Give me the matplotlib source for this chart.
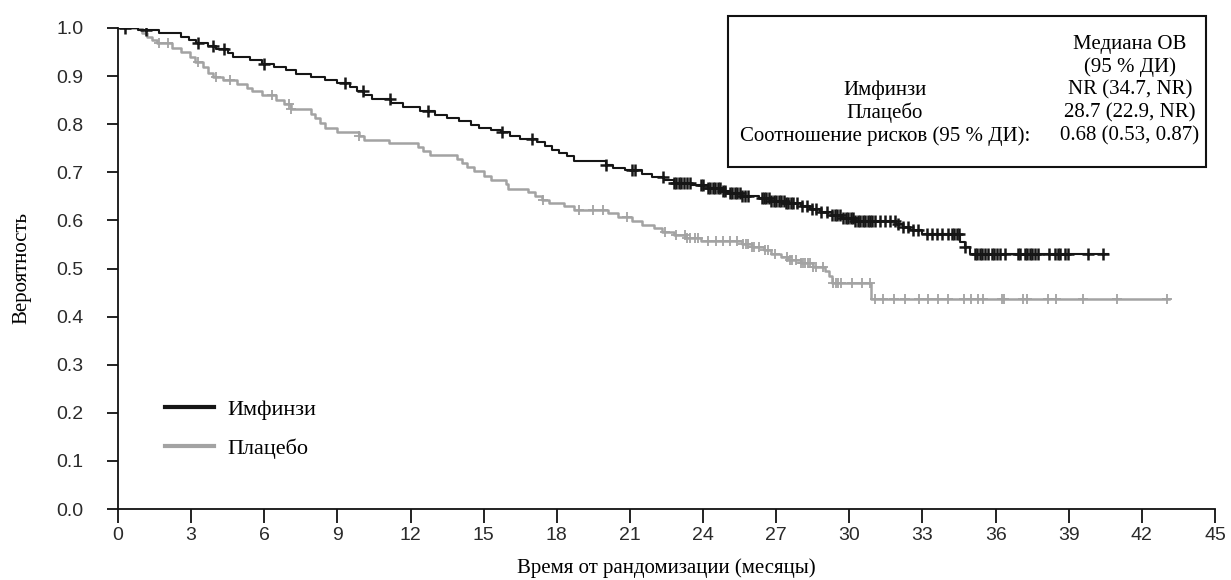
import matplotlib
matplotlib.use("Agg")
import matplotlib.pyplot as plt
import numpy as np
from matplotlib.lines import Line2D
from matplotlib.patches import Rectangle

# Imfinzi KM curve: drop times and survival after each drop
imf_t = [0, 0.8, 1.7, 2.6, 2.9, 3.2, 3.7, 4.0, 4.5, 4.7, 5.4, 5.9, 6.4, 6.9, 7.3, 7.9,
         8.5, 9.0, 9.5, 9.8, 10.1, 10.4, 11.2, 11.7, 12.4, 13.0, 13.5, 14.0, 14.5, 14.8,
         15.3, 15.7, 16.1, 16.5, 17.2, 17.5, 17.8, 18.1, 18.4, 18.7, 20.0, 20.3, 20.8,
         21.5, 21.9, 22.4, 22.8, 23.5, 24.2, 24.8, 25.1, 25.6, 26.3, 26.8, 27.4, 28.0,
         28.4, 28.8, 29.3, 29.7, 30.2, 31.9, 32.2, 32.5, 33.0, 34.55, 34.75, 34.95]
imf_s = [1.0, 0.996, 0.989, 0.982, 0.975, 0.969, 0.962, 0.956, 0.948, 0.94, 0.933, 0.925,
         0.919, 0.912, 0.905, 0.898, 0.892, 0.886, 0.877, 0.868, 0.861, 0.852, 0.845,
         0.836, 0.828, 0.82, 0.813, 0.806, 0.799, 0.792, 0.788, 0.784, 0.776, 0.769,
         0.762, 0.755, 0.747, 0.74, 0.733, 0.723, 0.715, 0.709, 0.704, 0.697, 0.69,
         0.684, 0.678, 0.674, 0.667, 0.661, 0.656, 0.65, 0.646, 0.641, 0.637, 0.63,
         0.623, 0.617, 0.611, 0.604, 0.599, 0.592, 0.586, 0.58, 0.572, 0.556, 0.545, 0.53]
imf_end = 40.6
imf_cens = [0.3, 1.15, 3.3, 3.9, 4.35, 6.0, 9.3, 10.05, 11.15, 12.7, 15.75, 17.0, 20.0,
            21.1, 21.2, 22.35, 22.8, 22.9, 23.0, 23.1, 23.2, 23.35, 23.45, 23.9, 24.0,
            24.2, 24.3, 24.4, 24.5, 24.6, 24.7, 24.8, 24.9, 25.1, 25.2, 25.3, 25.4, 25.5,
            25.6, 25.7, 25.85, 26.4, 26.5, 26.6, 26.7, 26.8, 26.9, 27.0, 27.1, 27.2, 27.3,
            27.4, 27.5, 27.6, 27.7, 27.85, 28.05, 28.25, 28.45, 28.65, 28.85, 29.1, 29.3,
            29.4, 29.5, 29.6, 29.75, 29.85, 29.95, 30.05, 30.15, 30.25, 30.35, 30.45, 30.55,
            30.65, 30.75, 30.85, 30.95, 31.05, 31.25, 31.45, 31.67, 31.87, 32.0, 32.2, 32.4,
            32.6, 32.8, 33.2, 33.4, 33.6, 33.8, 34.05, 34.2, 34.3, 34.4, 34.5, 34.75,
            35.15, 35.25, 35.35, 35.45, 35.55, 35.7, 35.85, 35.95, 36.05, 36.2, 36.4, 36.9,
            37.0, 37.2, 37.3, 37.4, 37.5, 37.6, 37.75, 38.2, 38.45, 38.55, 38.65, 38.85,
            38.97, 39.8, 40.4]

# Placebo KM curve
pla_t = [0, 1.0, 1.2, 1.4, 1.6, 2.2, 2.6, 2.95, 3.15, 3.5, 3.7, 3.9, 4.3, 4.9, 5.3, 5.5,
         5.9, 6.5, 6.8, 7.1, 7.9, 8.1, 8.3, 8.5, 9.0, 9.9, 10.1, 11.1, 12.3, 12.5, 12.8,
         13.9, 14.1, 14.3, 14.6, 15.0, 15.3, 15.9, 16.0, 16.8, 17.1, 17.4, 17.7, 18.3,
         18.7, 20.1, 20.5, 21.1, 21.5, 22.0, 22.3, 22.8, 23.3, 23.9, 25.6, 26.0, 26.5,
         26.8, 27.2, 27.5, 28.0, 28.5, 29.0, 29.15, 29.3, 30.9]
pla_s = [1.0, 0.99, 0.982, 0.975, 0.968, 0.958, 0.95, 0.94, 0.93, 0.918, 0.906, 0.898,
         0.892, 0.884, 0.876, 0.868, 0.86, 0.85, 0.842, 0.832, 0.822, 0.812, 0.802, 0.792,
         0.784, 0.775, 0.767, 0.76, 0.752, 0.744, 0.736, 0.727, 0.72, 0.711, 0.702, 0.693,
         0.685, 0.675, 0.666, 0.659, 0.651, 0.643, 0.636, 0.629, 0.622, 0.615, 0.608,
         0.598, 0.59, 0.584, 0.576, 0.569, 0.563, 0.558, 0.551, 0.545, 0.538, 0.53, 0.524,
         0.518, 0.512, 0.504, 0.494, 0.484, 0.469, 0.437]
pla_end = 43.1
pla_cens = [1.7, 2.05, 3.3, 4.0, 4.6, 6.3, 7.0, 7.1, 9.9, 17.45, 18.9, 19.5, 19.9, 20.9,
            22.45, 22.9, 23.25, 23.35, 23.45, 23.65, 23.8, 24.2, 24.55, 24.8, 25.1, 25.4,
            25.65, 25.75, 25.85, 26.0, 26.1, 26.3, 26.55, 26.65, 26.95, 27.45, 27.55,
            27.65, 27.8, 28.0, 28.1, 28.2, 28.3, 28.4, 28.5, 28.65, 28.9, 29.35, 29.45,
            29.55, 29.65, 30.1, 30.5, 30.85, 31.05, 31.39, 31.84, 32.28, 32.85, 33.23,
            33.65, 34.05, 34.71, 34.99, 35.26, 35.49, 36.25, 36.33, 37.11, 37.27, 38.13,
            38.47, 39.59, 41.0, 43.05]

x_ticks = list(range(0, 46, 3))
y_ticks = [0.0, 0.1, 0.2, 0.3, 0.4, 0.5, 0.6, 0.7, 0.8, 0.9, 1.0]

col_imf = "#161616"
col_pla = "#a3a3a3"
serif = "Liberation Serif"
sans = "Liberation Sans"


def at(times, surv, c):
    idx = np.searchsorted(times, c, side="right") - 1
    return np.asarray(surv)[idx]


fig = plt.figure(figsize=(12.31, 5.80), dpi=100)
ax = fig.add_axes([118 / 1231, 1 - 509 / 580, 1097 / 1231, 481 / 580])

# placebo under, imfinzi on top
ax.step(np.append(pla_t, pla_end), np.append(pla_s, pla_s[-1]), where="post",
        color=col_pla, lw=1.8, zorder=2)
ax.plot(pla_cens, at(pla_t, pla_s, pla_cens), ls="none", marker="+", ms=7, mew=1.3,
        color=col_pla, zorder=2)
ax.step(np.append(imf_t, imf_end), np.append(imf_s, imf_s[-1]), where="post",
        color=col_imf, lw=1.5, zorder=3)
ax.plot(imf_cens, at(imf_t, imf_s, imf_cens), ls="none", marker="+", ms=8, mew=1.8,
        color=col_imf, zorder=4)

ax.set_xlim(0, 45)
ax.set_ylim(0, 1.0)
ax.set_xticks(x_ticks)
ax.set_yticks(y_ticks)
ax.set_yticklabels([f"{v:.1f}" for v in y_ticks])
ax.spines["top"].set_visible(False)
ax.spines["right"].set_visible(False)
for sp in ["left", "bottom"]:
    ax.spines[sp].set_linewidth(1.3)
    ax.spines[sp].set_color("#111111")
ax.tick_params(axis="x", length=10, width=1.3, direction="out", pad=3, color="#111111")
ax.tick_params(axis="y", length=8, width=1.3, direction="out", pad=17, color="#111111")
for lab in ax.get_xticklabels() + ax.get_yticklabels():
    lab.set_fontfamily(sans)
    lab.set_fontsize(14)
    lab.set_color("#2a2a2a")

ax.set_xlabel("Время от рандомизации (месяцы)", fontfamily=serif, fontsize=15, labelpad=10)
ax.set_ylabel("Вероятность", fontfamily=serif, fontsize=15, labelpad=18)

handles = [Line2D([], [], color=col_imf, lw=3), Line2D([], [], color=col_pla, lw=3)]
ax.legend(handles, ["Имфинзи", "Плацебо"], loc="lower left",
          bbox_to_anchor=(0.043, 0.104), frameon=False, borderpad=0, borderaxespad=0,
          prop={"family": serif, "size": 16}, handlelength=2.2, handletextpad=0.6,
          labelspacing=0.85)

# info box
fig.add_artist(Rectangle((728 / 1231, 1 - 167 / 580), 478 / 1231, 151 / 580,
                         transform=fig.transFigure, fill=False, lw=1.5, ec="#111111"))
right_col = ["Медиана ОВ", "(95 % ДИ)", "NR (34.7, NR)", "28.7 (22.9, NR)", "0.68 (0.53, 0.87)"]
left_col = ["", "", "Имфинзи", "Плацебо", "Соотношение рисков (95 % ДИ):"]
ys = [44, 67, 90, 113, 136]
for y, r, l in zip(ys, right_col, left_col):
    fig.text(1130 / 1231, 1 - y / 580, r, ha="center", va="center", fontfamily=serif,
             fontsize=15)
    if l:
        fig.text(885 / 1231, 1 - y / 580, l, ha="center", va="center", fontfamily=serif,
                 fontsize=15)

fig.savefig("out.png", dpi=100)
